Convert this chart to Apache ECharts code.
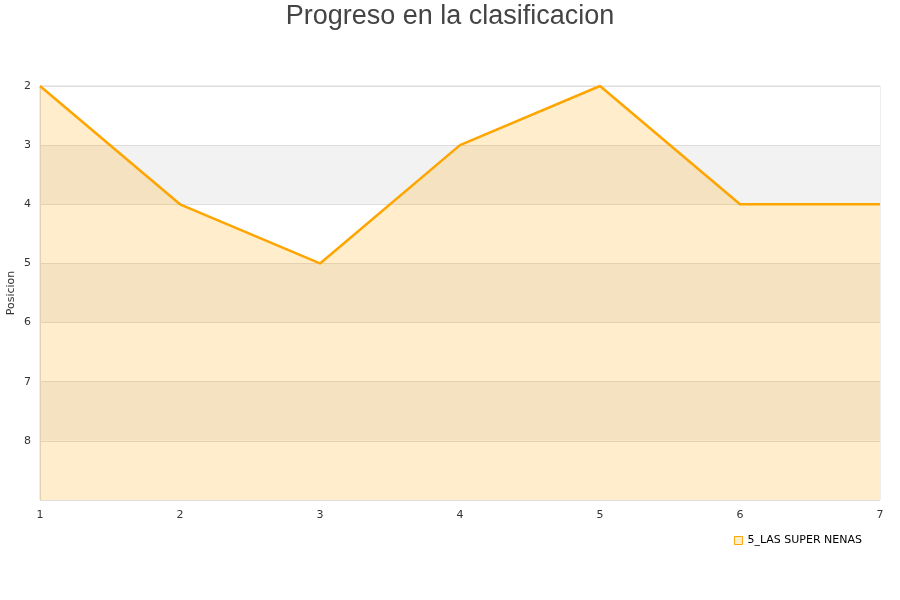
<!DOCTYPE html>
<html><head><meta charset="utf-8">
<script src="https://cdn.jsdelivr.net/npm/echarts@6/dist/echarts.min.js"></script>
<style>html,body{margin:0;padding:0;background:#fff}#c{width:900px;height:600px}</style>
</head><body><div id="c"></div>
<script>
const title = 'Progreso en la clasificacion';
const jornadas = [1, 2, 3, 4, 5, 6, 7];
const posiciones = [2, 4, 5, 3, 2, 4, 4];
const seriesName = '5_LAS SUPER NENAS';
const yAxisName = 'Posicion';

const chart = echarts.init(document.getElementById('c'), null, {renderer: 'canvas'});
chart.setOption({
  animation: false,
  title: {text: title, left: 'center', top: -2,
    textStyle: {fontFamily: 'Liberation Sans', fontSize: 27, fontWeight: 'normal', color: '#444'}},
  grid: {left: 40, right: 20, top: 86, bottom: 100, containLabel: false, outerBoundsMode: 'none',
    show: true, borderColor: '#ddd', borderWidth: 1, backgroundColor: 'transparent'},
  legend: {show: true, right: 33, top: 530, icon: 'rect', itemWidth: 8, itemHeight: 8, itemGap: 10,
    textStyle: {fontFamily: 'DejaVu Sans', fontSize: 11, color: '#000'},
    itemStyle: {color: 'rgba(255,165,0,0.2)', borderColor: '#FFA500', borderWidth: 1, opacity: 1},
    data: [seriesName]},
  xAxis: {type: 'value', min: 1, max: 7, interval: 1,
    axisLine: {show: false}, axisTick: {show: false}, splitLine: {show: false},
    axisLabel: {fontFamily: 'DejaVu Sans', fontSize: 11, color: '#333', margin: 10}},
  yAxis: {type: 'value', inverse: true, min: 2, max: 9, interval: 1,
    name: yAxisName, nameLocation: 'middle', nameGap: 23, nameMoveOverlap: false,
    nameTextStyle: {fontFamily: 'DejaVu Sans', fontSize: 11, color: '#333'},
    axisLine: {show: true, lineStyle: {color: '#ddd'}}, axisTick: {show: false},
    axisLabel: {fontFamily: 'DejaVu Sans', fontSize: 11, color: '#333', margin: 9,
      formatter: v => (v === 9 ? '' : String(v))},
    splitLine: {show: true, lineStyle: {color: '#ddd'}},
    splitArea: {show: true, areaStyle: {color: ['#ffffff', '#f2f2f2']}}},
  series: [{name: seriesName, type: 'line', data: jornadas.map((x, i) => [x, posiciones[i]]),
    showSymbol: false, symbol: 'none',
    lineStyle: {color: '#FFA500', width: 2.5},
    itemStyle: {color: '#FFA500'},
    areaStyle: {color: 'rgba(255,165,0,0.2)', opacity: 1, origin: 'end'}}]
});
</script></body></html>
